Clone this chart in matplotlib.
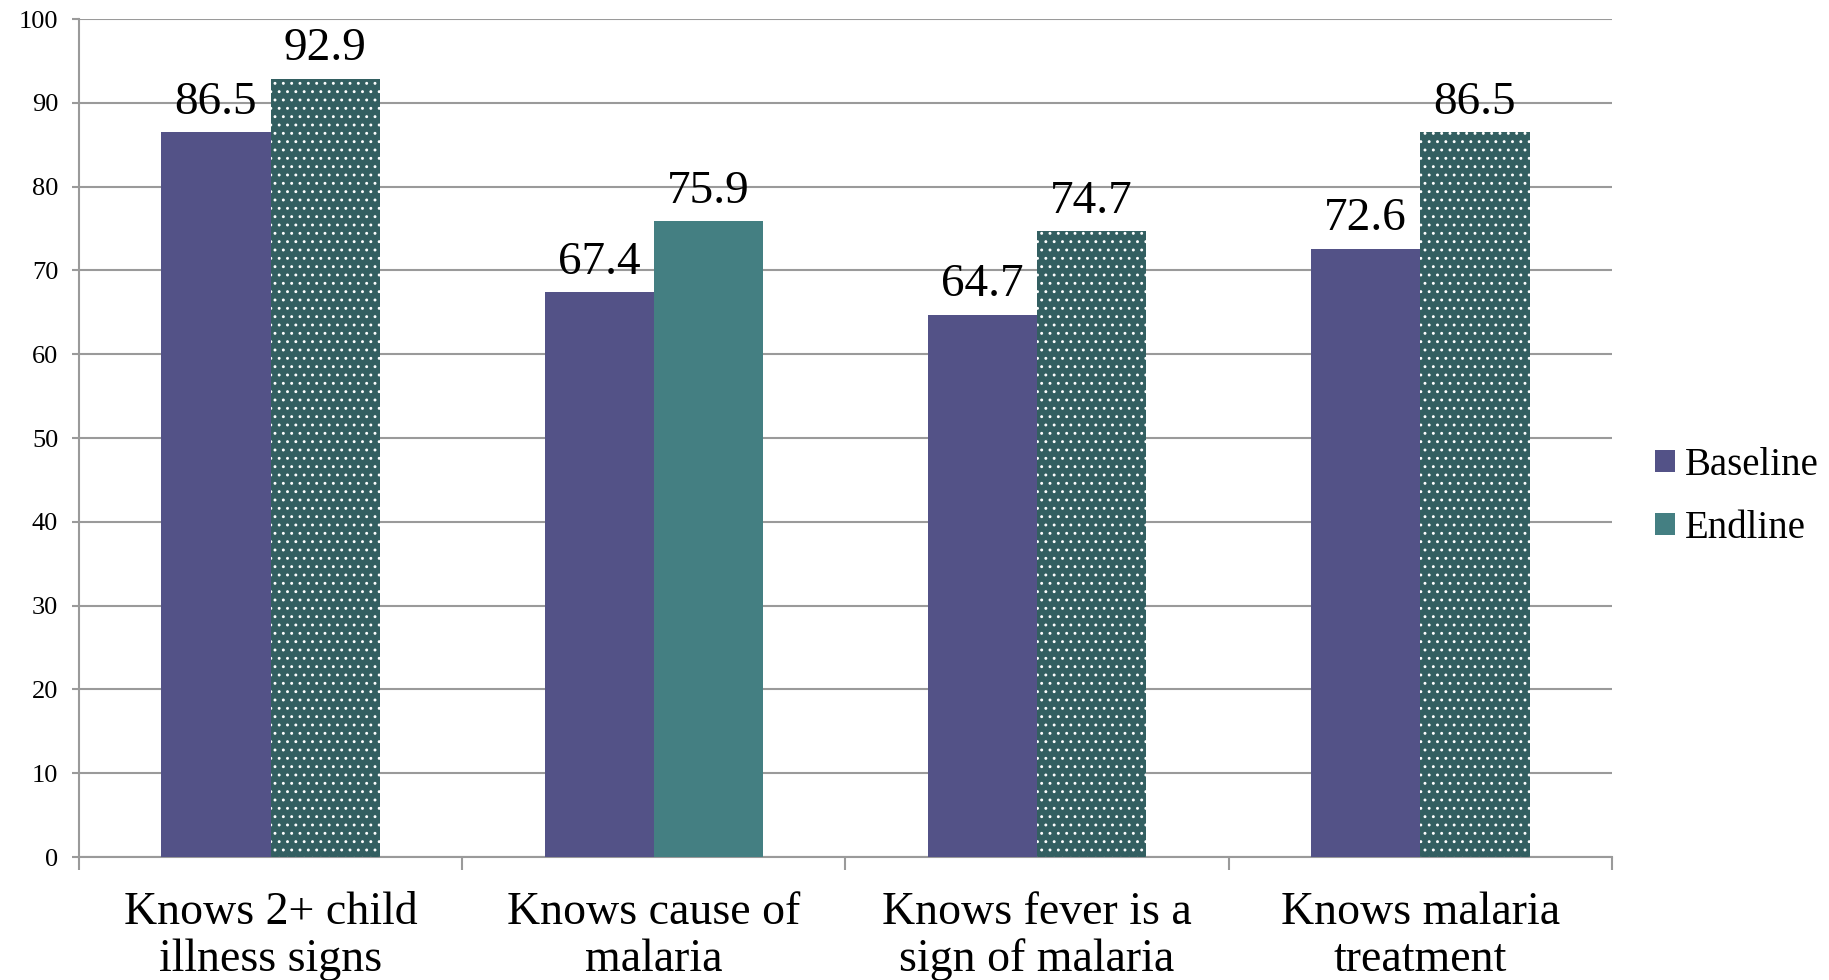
import matplotlib
matplotlib.use("Agg")
import matplotlib.pyplot as plt
from matplotlib.patches import Patch
import numpy as np

categories = ["Knows 2+ child\nillness signs", "Knows cause of\nmalaria",
              "Knows fever is a\nsign of malaria", "Knows malaria\ntreatment"]
baseline = [86.5, 67.4, 64.7, 72.6]
endline = [92.9, 75.9, 74.7, 86.5]

base_color = "#535287"
end_color = "#447F82"
# endline bars: dotted dark teal except the second group
end_fill = ["#335F61", end_color, "#335F61", "#335F61"]
end_hatch = ["..", None, "..", ".."]

plt.rcParams["font.family"] = ["Liberation Serif", "DejaVu Serif"]
plt.rcParams["hatch.linewidth"] = 0.9

fig = plt.figure(figsize=(18.29, 9.8), dpi=100)
ax = fig.add_axes([0.0432, 0.1255, 0.8381, 0.8551])

x = np.arange(len(categories))
w = 0.285
ax.bar(x - w / 2, baseline, w, color=base_color, linewidth=0, zorder=3)
for i in range(len(x)):
    ax.bar(x[i] + w / 2, endline[i], w, color=end_fill[i], edgecolor="white",
           linewidth=0, hatch=end_hatch[i], zorder=3)

for xi, v in zip(x - w / 2, baseline):
    ax.annotate(f"{v:.1f}", (xi, v), xytext=(0, 6), textcoords="offset points",
                ha="center", va="bottom", fontsize=34)
for xi, v in zip(x + w / 2, endline):
    ax.annotate(f"{v:.1f}", (xi, v), xytext=(0, 6), textcoords="offset points",
                ha="center", va="bottom", fontsize=34)

ax.set_ylim(0, 100)
ax.set_xlim(-0.5, len(categories) - 0.5)
ax.set_yticks(np.arange(0, 101, 10))
ax.tick_params(axis="y", labelsize=19, length=5, width=1.5, color="#9A9A9A",
               pad=10)
ax.grid(axis="y", color="#9A9A9A", linewidth=1.5, zorder=0)

ax.set_xticks(x)
ax.set_xticklabels(categories, fontsize=33, linespacing=1.12)
ax.set_xticks(np.arange(-0.5, len(categories), 1), minor=True)
ax.tick_params(axis="x", which="major", length=0, pad=25)
ax.tick_params(axis="x", which="minor", length=9, width=1.5, color="#9A9A9A")

for side in ["top", "right"]:
    ax.spines[side].set_visible(False)
for side in ["left", "bottom"]:
    ax.spines[side].set_color("#9A9A9A")
    ax.spines[side].set_linewidth(1.5)

handles = [Patch(facecolor=base_color, label="Baseline"),
           Patch(facecolor=end_color, label="Endline")]
fig.legend(handles=handles, loc="center left", bbox_to_anchor=(0.905, 0.493),
           frameon=False, fontsize=28, handlelength=0.5, handleheight=0.5,
           handletextpad=0.25, labelspacing=0.68, borderpad=0, borderaxespad=0)

fig.savefig("out.png", dpi=100)
